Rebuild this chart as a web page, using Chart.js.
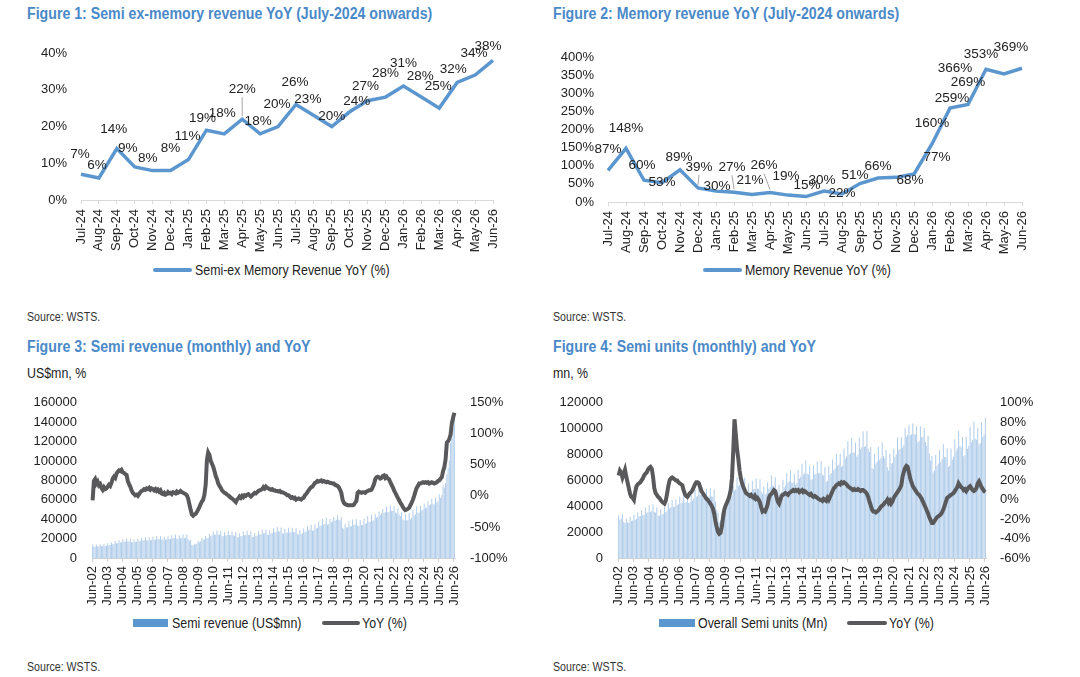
<!DOCTYPE html>
<html>
<head>
<meta charset="utf-8">
<script src="https://cdn.jsdelivr.net/npm/chart.js@4.4.1/dist/chart.umd.min.js"></script>
<style>
body{margin:0;background:#fff;width:1080px;height:677px;overflow:hidden;position:relative;font-family:'Liberation Sans Narrow','Arial Narrow','Liberation Sans',Arial,sans-serif;color:#222}
.estreito{position:absolute;white-space:nowrap;transform-origin:0 50%;transform:scaleX(.885)}
.titulo{font-weight:bold;font-size:16px;line-height:18px;color:#4a89c8}
.fonte{font-size:12px;line-height:14px;color:#333}
.unid{font-size:14px;line-height:16px;color:#222}
.leg{font-size:14px;line-height:16px;color:#222}
.amostra{position:absolute}
canvas{position:absolute}
</style>
</head>
<body>

<div class="estreito titulo" style="left:27px;top:5px">Figure 1: Semi ex-memory revenue YoY (July-2024 onwards)</div>
<div class="estreito titulo" style="left:553px;top:5px">Figure 2: Memory revenue YoY (July-2024 onwards)</div>
<div class="estreito titulo" style="left:27px;top:338px">Figure 3: Semi revenue (monthly) and YoY</div>
<div class="estreito titulo" style="left:553px;top:338px">Figure 4: Semi units (monthly) and YoY</div>
<div class="estreito unid" style="left:27px;top:365px">US$mn, %</div>
<div class="estreito unid" style="left:553px;top:365px">mn, %</div>
<div class="estreito fonte" style="left:27px;top:310px">Source: WSTS.</div>
<div class="estreito fonte" style="left:553px;top:310px">Source: WSTS.</div>
<div class="estreito fonte" style="left:27px;top:660px">Source: WSTS.</div>
<div class="estreito fonte" style="left:553px;top:660px">Source: WSTS.</div>

<div class="amostra" style="left:153px;top:268px;width:39px;height:4px;background:#5b96cf;border-radius:2px"></div>
<div class="estreito leg" style="left:195px;top:262px">Semi-ex Memory Revenue YoY (%)</div>
<div class="amostra" style="left:703px;top:268px;width:39px;height:4px;background:#5b96cf;border-radius:2px"></div>
<div class="estreito leg" style="left:745px;top:262px">Memory Revenue YoY (%)</div>

<div class="amostra" style="left:133px;top:619px;width:35px;height:8px;background:#5b96cf"></div>
<div class="estreito leg" style="left:172px;top:615px">Semi revenue (US$mn)</div>
<div class="amostra" style="left:322px;top:621px;width:38px;height:4px;background:#59595b;border-radius:2px"></div>
<div class="estreito leg" style="left:362px;top:615px">YoY (%)</div>

<div class="amostra" style="left:659px;top:619px;width:36px;height:8px;background:#5b96cf"></div>
<div class="estreito leg" style="left:698px;top:615px">Overall Semi units (Mn)</div>
<div class="amostra" style="left:847px;top:621px;width:40px;height:4px;background:#59595b;border-radius:2px"></div>
<div class="estreito leg" style="left:889px;top:615px">YoY (%)</div>

<canvas id="grafico1" width="540" height="252" style="left:0;top:0;width:540px;height:252px"></canvas>
<canvas id="grafico2" width="540" height="254" style="left:540px;top:0;width:540px;height:254px"></canvas>
<canvas id="grafico3" width="540" height="227" style="left:0;top:380px;width:540px;height:227px"></canvas>
<canvas id="grafico4" width="540" height="227" style="left:540px;top:380px;width:540px;height:227px"></canvas>

<script>
const meses24=['Jul-24','Aug-24','Sep-24','Oct-24','Nov-24','Dec-24','Jan-25','Feb-25','Mar-25','Apr-25','May-25','Jun-25','Jul-25','Aug-25','Sep-25','Oct-25','Nov-25','Dec-25','Jan-26','Feb-26','Mar-26','Apr-26','May-26','Jun-26']
const semiExMemoriaYoy=[7,6,14,9,8,8,11,19,18,22,18,20,26,23,20,24,27,28,31,28,25,32,34,38]
const memoriaYoy=[87,148,60,53,89,39,30,27,21,26,19,15,30,22,51,66,68,77,160,259,269,366,353,369]

const anosTicks=['Jun-02','Jun-03','Jun-04','Jun-05','Jun-06','Jun-07','Jun-08','Jun-09','Jun-10','Jun-11','Jun-12','Jun-13','Jun-14','Jun-15','Jun-16','Jun-17','Jun-18','Jun-19','Jun-20','Jun-21','Jun-22','Jun-23','Jun-24','Jun-25','Jun-26']

// receita semi mensal, US$mn (Jun-02 .. Jun-26)
const receitaSemi=[
13900,11600,11900,13800,11800,12100,14300,
12300,12100,14600,12500,12800,15200,13100,13400,16000,14200,14600,17400,
15100,15300,18300,15900,16200,19600,16800,17000,20100,16900,17000,19800,
16400,16300,19200,16500,16700,19600,17100,17500,20700,18000,18300,21500,
18200,18000,21300,18400,18700,22000,18900,19100,22600,19300,19500,22800,
18900,18700,21900,18800,19100,22400,19500,19900,23500,20400,20600,24100,
20200,19900,23400,20400,20600,24200,20700,20800,24300,19600,17800,18600,
13300,12900,14600,14000,14900,17900,16300,17200,20600,18700,19200,22600,
20400,20600,25100,22400,23100,27700,23900,24100,28300,24100,24000,27900,
22800,22500,26800,23300,23600,28000,23700,23500,27400,23100,22900,26900,
21600,21300,25600,22300,22800,27400,23400,23600,28000,23800,23700,27200,
21900,21600,25900,22800,23300,28100,24200,24600,29400,25200,25400,29500,
24100,23800,28600,25300,25700,30700,26500,26900,31900,27300,27200,31500,
25400,25000,29800,26100,26200,31100,26400,26500,31200,26700,26600,30700,
24500,24100,28800,25000,25400,30300,26600,27400,32800,28500,29000,34200,
28100,28500,34800,30500,31300,37800,32700,33600,40300,34600,35100,41200,
34400,34800,40200,36900,37600,42300,38500,39300,44100,39400,38700,42300,
31200,30000,35400,31500,31800,38000,32500,33100,39700,34200,34400,40000,
33400,32700,39200,33900,34000,40500,35000,35800,43300,37200,37500,44400,
38500,39000,45100,41400,42600,47900,44400,45800,50600,46500,47500,52800,
47200,47300,53800,48500,48800,53400,46900,46200,51000,44800,43200,47100,
39600,38900,45000,38500,39200,46300,40000,41200,49700,43700,45000,53400,
46500,47000,53800,49000,50100,56200,51200,52000,58400,54300,55200,61200,
55800,55100,62400,57200,58300,65800,61800,65000,74800,72500,77000,86400,
92500,100200,118600,123000,133400,147500
]

const receitaSemiYoy=[
-7,24,27,20,23,17,19,
13,10,14,11,12,15,18,16,21,28,31,29,
36,39,41,40,42,38,37,35,34,24,19,15,
9,5,3,1,2,0,3,6,8,9,11,10,
12,11,13,10,12,11,9,11,8,10,7,9,
4,3,5,2,3,6,4,5,3,6,5,4,
7,5,6,8,6,5,4,3,1,-4,-13,-22,
-30,-32,-30,-29,-26,-22,-18,-13,-9,-6,2,18,
58,70,66,57,52,47,40,32,27,20,16,13,
9,7,5,4,2,1,-1,-3,-4,-6,-8,-10,
-6,-4,-1,-3,0,-2,1,0,2,3,1,-1,
1,3,5,4,6,8,9,10,11,14,12,15,
13,12,11,10,11,9,9,8,8,7,8,6,
6,5,4,3,1,1,-1,-3,-2,-4,-3,-6,
-5,-4,-5,-6,-4,-3,1,3,6,9,12,14,
15,18,21,22,24,23,24,25,23,24,23,22,
23,22,21,21,20,20,18,17,16,14,10,5,
-6,-11,-13,-14,-15,-15,-15,-15,-15,-14,-11,-8,
5,7,6,5,6,6,5,7,8,9,9,10,
14,19,27,30,31,30,28,29,32,33,29,31,
28,27,22,18,14,9,5,1,-3,-7,-11,-14,
-18,-21,-23,-22,-21,-19,-15,-11,-6,0,7,13,
16,20,20,21,22,21,22,21,22,20,21,22,
21,20,21,22,24,25,28,30,40,46,59,86,
88,92,99,117,126,134
]

// unidades semi mensal, mn (Jun-02 .. Jun-26)
const unidadesSemi=[
33000,29500,30500,33800,27800,27000,30500,
27500,27200,31800,28500,28900,33500,29600,30400,35200,31800,32500,37000,
33000,33400,38900,34600,35300,40800,35800,36200,41500,35600,35000,39200,
32800,32500,37600,33500,34200,39600,35400,36700,42500,38400,39100,44800,
39500,39700,45300,40800,41500,47600,42300,42900,48700,42700,43100,48800,
42600,42900,49300,44300,45800,52900,47100,48000,55200,48700,49100,54600,
46200,46000,53100,47200,47600,53800,47500,47300,52900,43600,37500,35100,
27600,29200,34900,33100,35800,43000,40200,42800,50400,46700,48100,55800,
52100,53200,62300,55600,56300,63400,55200,55000,62100,52300,51400,57600,
50800,51200,59800,53100,53500,61600,53600,53400,60800,51200,49700,55300,
48900,49800,58600,53600,54800,63900,55900,56100,62400,51400,50700,56400,
50100,51200,60500,54500,56100,65600,58400,59300,67900,58200,58400,65100,
56700,57900,68100,61300,62800,72900,64500,65400,75300,65200,64600,71200,
60500,60800,71500,64500,65000,74700,65600,65700,75000,64600,63800,70400,
58800,59800,70900,64400,65700,76200,67800,69200,80400,71500,72300,80600,
70300,71500,84700,76700,78300,90200,79800,80900,92600,81400,81600,89300,
78400,79600,93200,84000,85700,97800,86100,86600,98200,84600,81900,85900,
69500,68600,80600,73100,74700,85800,76000,77400,89500,78600,77300,83500,
70200,67600,80400,72800,73400,84500,77900,80200,93100,83600,84300,93600,
85200,87300,100400,93800,95300,102600,94900,95500,103900,95800,95200,101800,
89400,90600,101700,93400,93500,100600,89600,86800,94700,80700,75400,78900,
66100,67600,79800,71100,72800,83500,74100,76200,88200,78300,77800,84700,
70300,71400,84600,76200,78300,91700,82500,84800,98100,86600,85400,93600,
78600,79400,93800,84500,86600,101300,89700,91300,105600,92200,91400,100600,
87900,88700,104800,93600,95200,108400
]

const unidadesSemiYoy=[
25,30,28,23,27,31,24,
18,12,6,3,2,0,8,14,16,17,18,20,
22,25,27,28,31,33,34,32,24,12,7,5,
3,2,0,-2,-3,-4,-1,6,14,20,22,23,
22,21,20,20,18,17,16,15,10,6,4,3,
5,7,8,10,13,16,18,18,17,13,9,7,
5,3,1,0,-2,-4,-6,-9,-14,-22,-28,-33,
-35,-34,-28,-18,-10,-6,-3,0,4,10,22,50,
83,68,52,42,30,22,17,13,10,7,6,5,
4,5,3,2,4,1,2,0,-3,-8,-12,-11,
-12,-9,-5,2,5,6,8,10,9,3,-2,-4,
0,4,5,6,7,6,5,7,8,9,10,9,
10,9,10,8,9,10,8,9,8,7,6,5,
6,4,3,4,3,2,1,0,0,-1,1,0,
-1,2,0,3,6,9,12,13,15,16,17,16,
18,17,18,17,16,14,13,12,11,10,11,10,
10,11,10,9,10,10,9,8,6,3,-2,-6,
-10,-12,-12,-13,-12,-11,-9,-7,-6,-5,-3,-2,
0,-3,-1,-4,-2,2,4,6,8,10,12,15,
24,29,33,35,34,28,22,18,14,12,10,8,
6,5,3,1,-2,-5,-8,-11,-14,-18,-21,-24,
-24,-22,-20,-18,-17,-16,-15,-13,-10,-6,-2,2,
3,4,5,6,7,9,11,13,17,15,13,12,
10,11,9,11,13,14,12,10,9,10,12,17,
19,16,13,11,9,8
]

const FONTE="'Liberation Sans Narrow','Arial Narrow','Liberation Sans',Arial,sans-serif"
Chart.defaults.font.family=FONTE
Chart.defaults.font.size=13
Chart.defaults.color='#222'
Chart.defaults.animation=false

const AZUL='#5b96cf'
const CINZA='#59595b'

// meses Jun-02 .. Jun-26 como categorias
const nomesMes=['Jan','Feb','Mar','Apr','May','Jun','Jul','Aug','Sep','Oct','Nov','Dec']
let mesesLongos=[]
for(let i=0;i<receitaSemi.length;i++){
let m=(5+i)%12
let a=2+Math.floor((5+i)/12)
mesesLongos.push(nomesMes[m]+'-'+String(a).padStart(2,'0'))
}

// deslocamento dos rotulos em relacao ao ponto
const desloc1=[[-1,-20],[-2,-13],[-3,-19],[-7,-19],[-5,-12],[0,-22],[-1,-23],[-4,-12],[-2,-21],[0,-30],[-2,-13],[-1,-22],[-1,-22],[-6,-16],[0,-10],[7,-11],[-2,-14],[0,-24],[0,-23],[-1,-21],[-1,-22],[-4,-13],[-1,-22],[-5,-14]]
const desloc2=[[0,-21],[0,-20],[-2,-15],[0,-1],[-1,-12],[1,-21],[1,-5],[-2,-25],[-2,-14],[-6,-27],[-2,-19],[1,-11],[-2,-11],[0,-1],[-5,-8],[0,-12],[14,3],[23,-17],[0,-21],[2,-10],[0,-22],[-31,-1],[-23,-20],[-11,-21]]

const rotulosPontos={
id:'rotulosPontos',
afterDatasetsDraw(chart,args,opts){
if(!opts.desloc)return
let ctx=chart.ctx
let meta=chart.getDatasetMeta(0)
let valores=chart.data.datasets[0].data
ctx.save()
ctx.font='13.5px '+FONTE
ctx.fillStyle='#222'
ctx.textAlign='center'
ctx.textBaseline='middle'
meta.data.forEach((p,i)=>{
let d=opts.desloc[i]
let x=p.x+d[0]
let y=p.y+d[1]
if(opts.guias&&opts.guias.includes(i)){
ctx.strokeStyle='#a6a6a6'
ctx.lineWidth=1
ctx.beginPath()
ctx.moveTo(x,y+8)
ctx.lineTo(p.x,p.y-3)
ctx.stroke()
}
ctx.fillText(valores[i]+'%',x,y)
})
ctx.restore()
}
}

function graficoLinha(id,valores,max,passo,padEsq,larguraY,padDir,topo,desloc,guias){
new Chart(document.getElementById(id),{
type:'line',
data:{
labels:meses24,
datasets:[{
data:valores,
borderColor:AZUL,
borderWidth:3.5,
pointRadius:0,
tension:0
}]
},
options:{
responsive:false,
layout:{padding:{left:padEsq,right:padDir,top:topo,bottom:0}},
plugins:{
legend:{display:false},
tooltip:{enabled:false},
rotulosPontos:{desloc:desloc,guias:guias}
},
scales:{
x:{
offset:false,
grid:{drawOnChartArea:false,tickLength:4,color:'#d9d9d9'},
border:{color:'#d9d9d9'},
ticks:{autoSkip:false,maxRotation:90,minRotation:90,padding:5},
afterFit:s=>{s.height=52}
},
y:{
min:0,
max:max,
ticks:{stepSize:passo,autoSkip:false,padding:14,callback:v=>v+'%'},
grid:{display:false,drawTicks:false},
border:{display:false},
afterFit:s=>{s.width=larguraY}
}
}
},
plugins:[rotulosPontos]
})
}

graficoLinha('grafico1',semiExMemoriaYoy,40,10,10,71,47,53,desloc1,[9])
graficoLinha('grafico2',memoriaYoy,400,50,10,58,58,57,desloc2,[5,7,9])

function graficoMensal(id,barras,linha,maxEsq,passoEsq,minDir,maxDir,passoDir,padEsq,larguraEsq,larguraDir,padDir,folgaDir){
new Chart(document.getElementById(id),{
type:'bar',
data:{
labels:mesesLongos,
datasets:[{
type:'bar',
data:barras,
backgroundColor:'#b1cdea',
barPercentage:0.8,
categoryPercentage:1,
yAxisID:'y',
order:2
},{
type:'line',
data:linha,
borderColor:CINZA,
borderWidth:4,
pointRadius:0,
tension:0,
yAxisID:'y1',
order:1
}]
},
options:{
responsive:false,
layout:{padding:{left:padEsq,right:padDir,top:22,bottom:0}},
plugins:{
legend:{display:false},
tooltip:{enabled:false}
},
scales:{
x:{
grid:{drawOnChartArea:false,tickLength:4,color:c=>c.index%12===0?'#d0d0d0':'rgba(0,0,0,0)'},
border:{color:'#d0d0d0'},
ticks:{autoSkip:false,maxRotation:90,minRotation:90,padding:4,callback:(v,i)=>i%12===0?anosTicks[i/12]:''},
afterFit:s=>{s.height=49}
},
y:{
position:'left',
min:0,
max:maxEsq,
ticks:{stepSize:passoEsq,autoSkip:false,padding:15,callback:v=>v},
grid:{display:false,drawTicks:false},
border:{display:false},
afterFit:s=>{s.width=larguraEsq}
},
y1:{
position:'right',
min:minDir,
max:maxDir,
ticks:{stepSize:passoDir,autoSkip:false,padding:folgaDir,callback:v=>v+'%'},
grid:{display:false,drawTicks:false},
border:{display:false},
afterFit:s=>{s.width=larguraDir}
}
}
}
})
}

graficoMensal('grafico3',receitaSemi,receitaSemiYoy,160000,20000,-100,150,50,20,72,60,25,15)
graficoMensal('grafico4',unidadesSemi,unidadesSemiYoy,120000,20000,-60,100,20,10,68,70,24,14)
</script>
</body>
</html>
